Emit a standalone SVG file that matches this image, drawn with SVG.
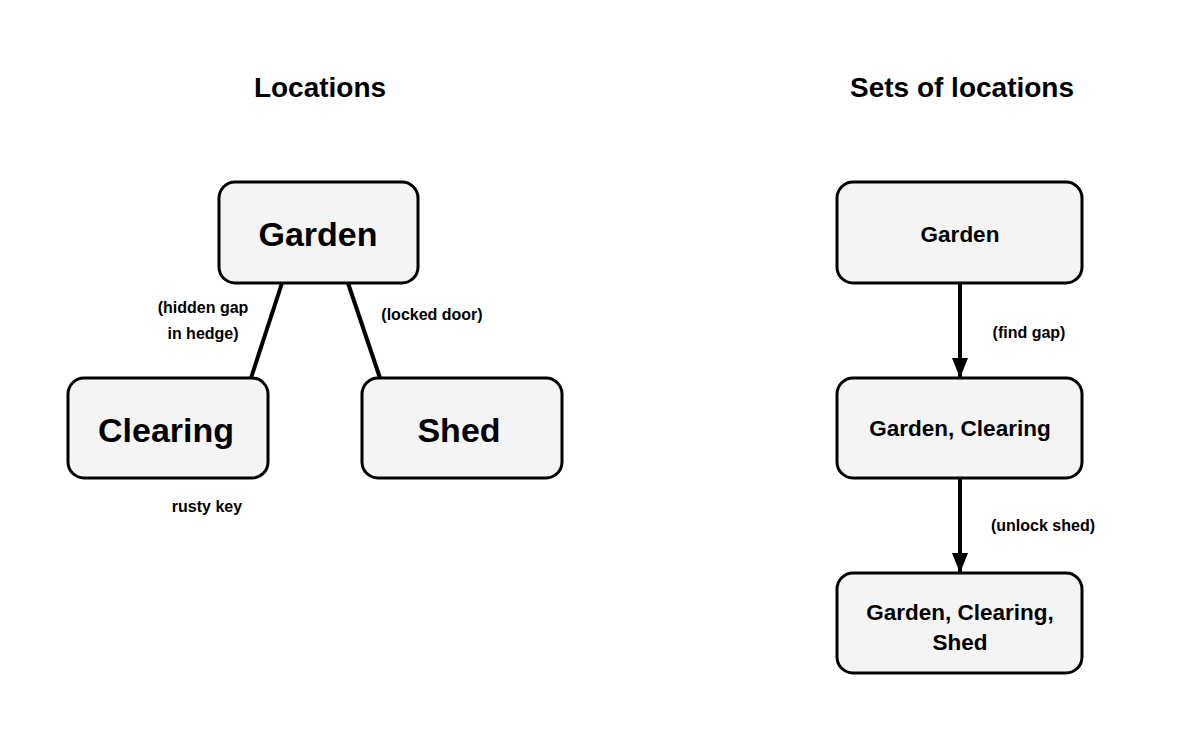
<svg xmlns="http://www.w3.org/2000/svg" width="1200" height="750" viewBox="0 0 1200 750">
<defs>
<style>
text{font-family:"Liberation Sans",Arial,sans-serif;font-weight:bold;fill:#000;text-anchor:middle}
.box{fill:#f4f4f4;stroke:#000;stroke-width:3}
.title{font-size:28px}
.big{font-size:34px}
.mid{font-size:22.5px}
.lbl{font-size:16px}
.edge{stroke:#000;stroke-width:4;fill:none}
</style>
<marker id="arr" markerWidth="10" markerHeight="10" refX="9" refY="5" orient="auto" markerUnits="userSpaceOnUse" viewBox="0 0 10 10">
<path d="M0,0 L10,5 L0,10 Z" fill="#000"/>
</marker>
<marker id="ah" viewBox="0 0 20 16" refX="20" refY="8" markerWidth="20" markerHeight="16" orient="auto" markerUnits="userSpaceOnUse">
<path d="M0,0 L20,8 L0,16 Z" fill="#000"/>
</marker>
</defs>
<rect width="1200" height="750" fill="#fff"/>
<text class="title" x="320" y="97">Locations</text>
<text class="title" x="962" y="97">Sets of locations</text>
<g id="connectors">
<line class="edge" x1="282" y1="283" x2="251" y2="378"/>
<line class="edge" x1="348" y1="283" x2="380" y2="378"/>
<line class="edge" x1="960" y1="283" x2="960" y2="378" marker-end="url(#ah)"/>
<line class="edge" x1="960" y1="478" x2="960" y2="573" marker-end="url(#ah)"/>
<text class="lbl" x="203" y="313">(hidden gap</text>
<text class="lbl" x="203" y="339">in hedge)</text>
<text class="lbl" x="432" y="320">(locked door)</text>
<text class="lbl" x="1029" y="338">(find gap)</text>
<text class="lbl" x="1043" y="531">(unlock shed)</text>
</g>
<g id="garden">
<rect class="box" x="219" y="182" width="199" height="101" rx="16"/>
<text class="big" x="318" y="246">Garden</text>
</g>
<g id="clearing">
<rect class="box" x="68" y="378" width="200" height="100" rx="16"/>
<text class="big" x="166" y="442">Clearing</text>
<text class="lbl" x="207" y="512">rusty key</text>
</g>
<g id="shed">
<rect class="box" x="362" y="378" width="200" height="100" rx="16"/>
<text class="big" x="459" y="442">Shed</text>
</g>
<g id="set1">
<rect class="box" x="837" y="182" width="245" height="101" rx="16"/>
<text class="mid" x="960" y="242">Garden</text>
</g>
<g id="set2">
<rect class="box" x="837" y="378" width="245" height="100" rx="16"/>
<text class="mid" x="960" y="436">Garden, Clearing</text>
</g>
<g id="set3">
<rect class="box" x="837" y="573" width="245" height="100" rx="16"/>
<text class="mid" x="960" y="620">Garden, Clearing,</text>
<text class="mid" x="960" y="650">Shed</text>
</g>
</svg>
